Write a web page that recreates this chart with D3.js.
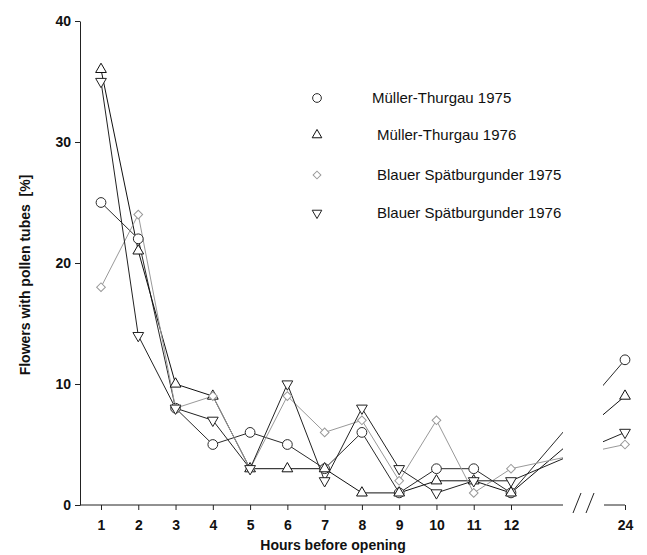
<!DOCTYPE html>
<html>
<head>
<meta charset="utf-8">
<script src="https://cdn.jsdelivr.net/npm/d3@7"></script>
<style>
  body { margin: 0; background: #fff; }
  svg { display: block; font-family: "Liberation Sans", Arial, sans-serif; }
</style>
</head>
<body>
<svg id="chart"></svg>
<script>
// values
const hours = [1, 2, 3, 4, 5, 6, 7, 8, 9, 10, 11, 12, 24];
const mt1975 = [25, 22, 8, 5, 6, 5, 3, 6, 1, 3, 3, 1, 12];
const mt1976 = [36, 21, 10, 9, 3, 3, 3, 1, 1, 2, 2, 1, 9];
const bs1975 = [18, 24, 8, 9, 3, 9, 6, 7, 2, 7, 1, 3, 5];
const bs1976 = [35, 14, 8, 7, 3, 10, 2, 8, 3, 1, 2, 2, 6];
const seriesNames = ['Müller-Thurgau 1975', 'Müller-Thurgau 1976',
  'Blauer Spätburgunder 1975', 'Blauer Spätburgunder 1976'];
const yTicks = [0, 10, 20, 30, 40];

const W = 647, H = 555;
const svg = d3.select('#chart').attr('width', W).attr('height', H);

// broken x axis: 1..12 evenly spaced, then a gap, then 24
const x = d3.scaleLinear().domain([1, 12, 24]).range([101, 511, 625]);
const y = d3.scaleLinear().domain([0, 40]).range([505, 21]);
const axisX0 = 80, breakL = 563, breakR = 604;

const series = [
  { name: seriesNames[0], values: mt1975, sym: d3.symbolCircle, size: 75, rot: 0, color: '#2a2a2a' },
  { name: seriesNames[1], values: mt1976, sym: d3.symbolTriangle, size: 50, rot: 0, color: '#111' },
  { name: seriesNames[2], values: bs1975, sym: d3.symbolSquare, size: 38, rot: 45, color: '#999' },
  { name: seriesNames[3], values: bs1976, sym: d3.symbolTriangle, size: 50, rot: 180, color: '#222' }
];

// clip lines so they disappear in the axis break
const clip = svg.append('defs').append('clipPath').attr('id', 'brk');
clip.append('rect').attr('x', axisX0).attr('y', 0).attr('width', breakL - axisX0).attr('height', H);
clip.append('rect').attr('x', breakR - 1).attr('y', 0).attr('width', W - breakR).attr('height', H);

// y axis
const yAxis = svg.append('g')
  .attr('transform', `translate(${axisX0},0)`)
  .call(d3.axisLeft(y).tickValues(yTicks).tickSize(5).tickSizeOuter(0).tickPadding(4));
yAxis.select('.domain').attr('stroke', '#222');
yAxis.selectAll('.tick line').attr('stroke', '#222');
yAxis.selectAll('.tick text')
  .attr('font-size', 14).attr('font-weight', 'bold').attr('fill', '#111')
  .attr('font-family', '"Liberation Sans", Arial, sans-serif');

// x axis (ticks + labels from the axis generator, line drawn in two parts)
const xAxis = svg.append('g')
  .attr('transform', `translate(0,${y(0)})`)
  .call(d3.axisBottom(x).tickValues(hours).tickFormat(d3.format('d')).tickSize(5).tickPadding(10));
xAxis.select('.domain').remove();
xAxis.selectAll('.tick line').attr('stroke', '#222');
xAxis.selectAll('.tick text')
  .attr('font-size', 14).attr('font-weight', 'bold').attr('fill', '#111')
  .attr('font-family', '"Liberation Sans", Arial, sans-serif');

const axisLine = svg.append('g').attr('stroke', '#222').attr('stroke-width', 1);
axisLine.append('line').attr('x1', axisX0).attr('x2', breakL).attr('y1', y(0)).attr('y2', y(0));
axisLine.append('line').attr('x1', breakR).attr('x2', x(24)).attr('y1', y(0)).attr('y2', y(0));
// break marks
[573, 586].forEach(bx => {
  axisLine.append('line').attr('x1', bx).attr('y1', y(0) + 8).attr('x2', bx + 8).attr('y2', y(0) - 12);
});

// axis titles
svg.append('text')
  .attr('transform', `translate(30,275) rotate(-90)`)
  .attr('text-anchor', 'middle')
  .attr('font-size', 14).attr('font-weight', 'bold').attr('fill', '#111')
  .style('white-space', 'pre')
  .text('Flowers with pollen tubes  [%]');

svg.append('text')
  .attr('x', 333).attr('y', 550)
  .attr('text-anchor', 'middle')
  .attr('font-size', 14).attr('font-weight', 'bold').attr('fill', '#111')
  .text('Hours before opening');

// lines
const line = d3.line()
  .x((d, i) => x(hours[i]))
  .y(d => y(d));

const lines = svg.append('g').attr('clip-path', 'url(#brk)');
series.forEach(s => {
  lines.append('path')
    .datum(s.values)
    .attr('fill', 'none')
    .attr('stroke', s.color)
    .attr('stroke-width', 1)
    .attr('d', line);
});

// markers
series.forEach(s => {
  const sym = d3.symbol().type(s.sym).size(s.size);
  svg.append('g').selectAll('path')
    .data(s.values)
    .join('path')
    .attr('transform', (d, i) => `translate(${x(hours[i])},${y(d)}) rotate(${s.rot})`)
    .attr('d', sym)
    .attr('fill', '#fff')
    .attr('stroke', s.color)
    .attr('stroke-width', 1);
});

// legend
const legendY = [98, 135, 175, 213];
const legendTextX = [372, 377, 377, 377];
const legend = svg.append('g');
series.forEach((s, i) => {
  legend.append('path')
    .attr('transform', `translate(317,${legendY[i]}) rotate(${s.rot})`)
    .attr('d', d3.symbol().type(s.sym).size(s.size * 0.8)())
    .attr('fill', '#fff')
    .attr('stroke', s.color)
    .attr('stroke-width', 1);
  legend.append('text')
    .attr('x', legendTextX[i]).attr('y', legendY[i] + 5)
    .attr('font-size', 15).attr('fill', '#111')
    .text(s.name);
});
</script>
</body>
</html>
